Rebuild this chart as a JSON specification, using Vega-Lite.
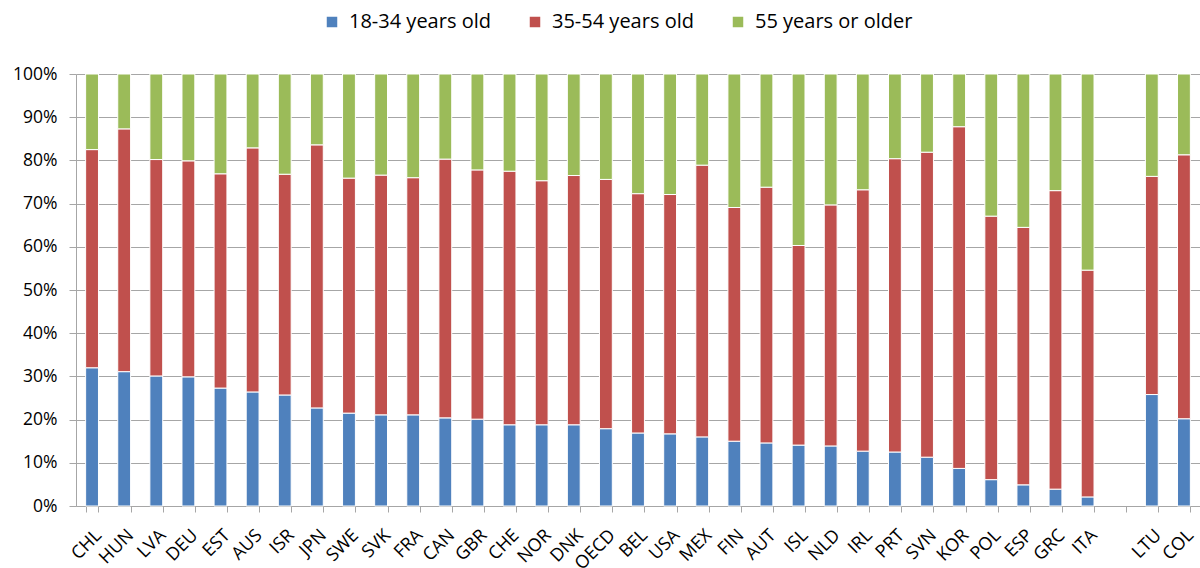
{
  "$schema": "https://vega.github.io/schema/vega-lite/v6.json",
  "autosize": {"type": "none"},
  "padding": {"left": 76, "top": 74, "right": 0, "bottom": 62},
  "width": 1124,
  "height": 432,
  "background": "white",
  "config": {
    "font": "Open Sans",
    "view": {"stroke": null},
    "axis": {"labelFont": "Open Sans", "labelColor": "#000000", "domainColor": "#a6a6a6", "tickColor": "#a6a6a6", "gridColor": "#a6a6a6"},
    "legend": {"labelFont": "Open Sans"}
  },
  "datasets": {
    "rows": [
      {"country": "CHL", "a": 32.0, "b": 50.5, "c": 17.5},
      {"country": "HUN", "a": 31.1, "b": 56.2, "c": 12.7},
      {"country": "LVA", "a": 30.1, "b": 50.1, "c": 19.8},
      {"country": "DEU", "a": 29.9, "b": 50.0, "c": 20.1},
      {"country": "EST", "a": 27.3, "b": 49.6, "c": 23.1},
      {"country": "AUS", "a": 26.4, "b": 56.5, "c": 17.1},
      {"country": "ISR", "a": 25.7, "b": 51.1, "c": 23.2},
      {"country": "JPN", "a": 22.7, "b": 60.9, "c": 16.4},
      {"country": "SWE", "a": 21.5, "b": 54.4, "c": 24.1},
      {"country": "SVK", "a": 21.1, "b": 55.5, "c": 23.4},
      {"country": "FRA", "a": 21.1, "b": 54.9, "c": 24.0},
      {"country": "CAN", "a": 20.4, "b": 59.9, "c": 19.7},
      {"country": "GBR", "a": 20.1, "b": 57.7, "c": 22.2},
      {"country": "CHE", "a": 18.8, "b": 58.7, "c": 22.5},
      {"country": "NOR", "a": 18.8, "b": 56.5, "c": 24.7},
      {"country": "DNK", "a": 18.8, "b": 57.7, "c": 23.5},
      {"country": "OECD", "a": 17.9, "b": 57.7, "c": 24.4},
      {"country": "BEL", "a": 16.9, "b": 55.4, "c": 27.7},
      {"country": "USA", "a": 16.7, "b": 55.4, "c": 27.9},
      {"country": "MEX", "a": 16.0, "b": 62.9, "c": 21.1},
      {"country": "FIN", "a": 15.0, "b": 54.1, "c": 30.9},
      {"country": "AUT", "a": 14.6, "b": 59.2, "c": 26.2},
      {"country": "ISL", "a": 14.1, "b": 46.2, "c": 39.7},
      {"country": "NLD", "a": 13.9, "b": 55.8, "c": 30.3},
      {"country": "IRL", "a": 12.7, "b": 60.5, "c": 26.8},
      {"country": "PRT", "a": 12.5, "b": 67.9, "c": 19.6},
      {"country": "SVN", "a": 11.3, "b": 70.6, "c": 18.1},
      {"country": "KOR", "a": 8.7, "b": 79.1, "c": 12.2},
      {"country": "POL", "a": 6.1, "b": 61.0, "c": 32.9},
      {"country": "ESP", "a": 4.9, "b": 59.6, "c": 35.5},
      {"country": "GRC", "a": 3.9, "b": 69.1, "c": 27.0},
      {"country": "ITA", "a": 2.1, "b": 52.5, "c": 45.4},
      {"country": "LTU", "a": 25.8, "b": 50.5, "c": 23.7},
      {"country": "COL", "a": 20.2, "b": 61.1, "c": 18.7}
    ]
  },
  "data": {"name": "rows"},
  "transform": [
    {"fold": ["a", "b", "c"], "as": ["key", "share"]},
    {"lookup": "key", "from": {"data": {"values": [
      {"key": "a", "group": "18-34 years old"},
      {"key": "b", "group": "35-54 years old"},
      {"key": "c", "group": "55 years or older"}
    ]}, "key": "key", "fields": ["group"]}}
  ],
  "mark": {"type": "bar", "stroke": "white", "strokeWidth": 1},
  "encoding": {
    "x": {
      "field": "country", "type": "nominal",
      "scale": {
        "domain": ["CHL","HUN","LVA","DEU","EST","AUS","ISR","JPN","SWE","SVK","FRA","CAN","GBR","CHE","NOR","DNK","OECD","BEL","USA","MEX","FIN","AUT","ISL","NLD","IRL","PRT","SVN","KOR","POL","ESP","GRC","ITA"," ","LTU","COL"],
        "paddingInner": 0.6, "paddingOuter": 0.3
      },
      "axis": {"title": null, "labelAngle": -45, "labelFontSize": 18, "tickBand": "extent", "tickSize": 6, "labelPadding": 14, "labelOverlap": false}
    },
    "y": {
      "field": "share", "type": "quantitative", "stack": "normalize",
      "scale": {"domain": [0, 1]},
      "axis": {"title": null, "format": ".0%", "values": [0,0.1,0.2,0.3,0.4,0.5,0.6,0.7,0.8,0.9,1], "labelOverlap": false, "labelFlush": false, "labelFontSize": 17.5, "tickSize": 7, "labelPadding": 12, "grid": true, "gridWidth": 1.2}
    },
    "color": {
      "field": "group", "type": "nominal",
      "scale": {"domain": ["18-34 years old", "35-54 years old", "55 years or older"], "range": ["#4F81BD", "#C0504D", "#9BBB59"]},
      "legend": {"title": null, "orient": "none", "direction": "horizontal", "legendX": 246, "legendY": -62, "symbolType": "square", "symbolSize": 110, "symbolStrokeWidth": 0, "labelFontSize": 20, "labelOffset": 7, "columnPadding": 34, "labelColor": "#000000"}
    },
    "order": {"field": "key", "type": "nominal"}
  }
}
